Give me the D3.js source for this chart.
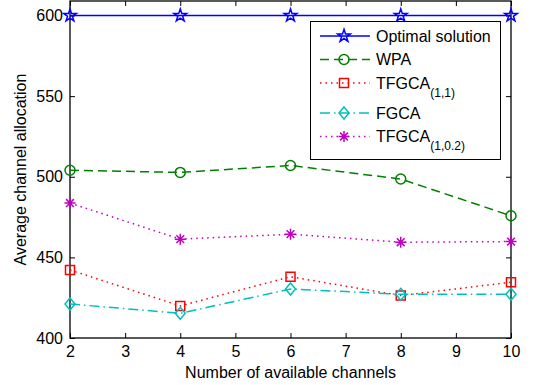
<!DOCTYPE html>
<html>
<head>
<meta charset="utf-8">
<script src="https://cdn.jsdelivr.net/npm/d3@7"></script>
<style>
  body { margin: 0; background: #fff; }
  svg { display: block; font-family: 'Liberation Sans', Arial, Helvetica, sans-serif; }
</style>
</head>
<body>
<div id="chart"></div>
<script>
// data
const channels = [2, 4, 6, 8, 10]
const optimal = [600, 600, 600, 600, 600]
const wpa = [504, 502.7, 507, 498.6, 475.8]
const tfgca11 = [442.2, 419.9, 438, 426.3, 434.6]
const fgca = [421.1, 415.3, 430.4, 427.1, 427.1]
const tfgca102 = [483.7, 461.3, 464.4, 459.4, 459.8]

const xTicks = [2, 3, 4, 5, 6, 7, 8, 9, 10]
const yTicks = [400, 450, 500, 550, 600]

const seriesNames = ['Optimal solution', 'WPA', 'TFGCA', 'FGCA', 'TFGCA']
const seriesSubs = ['', '', '(1,1)', '', '(1,0.2)']

const WIDTH = 535
const HEIGHT = 385
const LEFT = 70, RIGHT = 511, TOP = 1, BOTTOM = 338

// matlab-ish asterisk and diamond
const asterisk = {
  draw(ctx, size) {
    const r = Math.sqrt(size) / 2
    const d = r * Math.SQRT1_2
    ctx.moveTo(-r, 0); ctx.lineTo(r, 0)
    ctx.moveTo(0, -r); ctx.lineTo(0, r)
    ctx.moveTo(-d, -d); ctx.lineTo(d, d)
    ctx.moveTo(-d, d); ctx.lineTo(d, -d)
  }
}
const diamond = {
  draw(ctx, size) {
    const w = Math.sqrt(size) / 2
    const h = w * 1.2
    ctx.moveTo(0, -h); ctx.lineTo(w, 0); ctx.lineTo(0, h); ctx.lineTo(-w, 0); ctx.closePath()
  }
}

const styles = [
  {values: optimal, color: '#0000ff', dash: null, symbol: d3.symbolStar, size: 50},
  {values: wpa, color: '#008000', dash: '9,5', symbol: d3.symbolCircle, size: 78},
  {values: tfgca11, color: '#ff0000', dash: '1.5,4', symbol: d3.symbolSquare, size: 81},
  {values: fgca, color: '#00bfbf', dash: '10,4,1.5,4', symbol: diamond, size: 100},
  {values: tfgca102, color: '#bf00bf', dash: '1.5,4', symbol: asterisk, size: 121},
]

const svg = d3.select('#chart').append('svg')
  .attr('width', WIDTH)
  .attr('height', HEIGHT)

const x = d3.scaleLinear().domain([2, 10]).range([LEFT, RIGHT])
const y = d3.scaleLinear().domain([400, 609]).range([BOTTOM, TOP])

// axes, ticks pointing in
const bottomAxis = svg.append('g')
  .attr('transform', `translate(0,${BOTTOM})`)
  .call(d3.axisBottom(x).tickValues(xTicks).tickSizeInner(-5).tickSizeOuter(0).tickPadding(8).tickFormat(d3.format('d')))
const topAxis = svg.append('g')
  .attr('transform', `translate(0,${TOP})`)
  .call(d3.axisTop(x).tickValues(xTicks).tickSizeInner(-5).tickSizeOuter(0).tickFormat(''))
const leftAxis = svg.append('g')
  .attr('transform', `translate(${LEFT},0)`)
  .call(d3.axisLeft(y).tickValues(yTicks).tickSizeInner(-5).tickSizeOuter(0).tickPadding(7).tickFormat(d3.format('d')))
const rightAxis = svg.append('g')
  .attr('transform', `translate(${RIGHT},0)`)
  .call(d3.axisRight(y).tickValues(yTicks).tickSizeInner(-5).tickSizeOuter(0).tickFormat(''))

for (const g of [bottomAxis, topAxis, leftAxis, rightAxis]) {
  g.select('.domain').remove()
  g.selectAll('.tick line').attr('stroke', '#000').attr('stroke-width', 1)
  g.selectAll('.tick text')
    .attr('fill', '#000')
    .attr('font-size', '16px')
    .attr('font-family', "'Liberation Sans', Arial, sans-serif")
}

// frame
svg.append('rect')
  .attr('x', LEFT).attr('y', TOP)
  .attr('width', RIGHT - LEFT).attr('height', BOTTOM - TOP)
  .attr('fill', 'none').attr('stroke', '#000').attr('stroke-width', 1.3)

// series
const line = d3.line().x((d, i) => x(channels[i])).y(d => y(d))
styles.forEach(s => {
  svg.append('path')
    .datum(s.values)
    .attr('fill', 'none')
    .attr('stroke', s.color)
    .attr('stroke-width', 1.5)
    .attr('stroke-dasharray', s.dash)
    .attr('d', line)
  svg.selectAll(null)
    .data(s.values)
    .enter()
    .append('path')
    .attr('transform', (d, i) => `translate(${x(channels[i])},${y(d)})`)
    .attr('d', d3.symbol().type(s.symbol).size(s.size))
    .attr('fill', 'none')
    .attr('stroke', s.color)
    .attr('stroke-width', 1.5)
})

// legend
const legend = svg.append('g')
legend.append('rect')
  .attr('x', 310.5).attr('y', 21.5)
  .attr('width', 190).attr('height', 138)
  .attr('fill', '#fff').attr('stroke', '#000').attr('stroke-width', 1)

let ly = 36
styles.forEach((s, i) => {
  if (i > 0) ly += 23.5 + (seriesSubs[i - 1] ? 6.5 : 0)
  legend.append('line')
    .attr('x1', 320).attr('x2', 370).attr('y1', ly).attr('y2', ly)
    .attr('stroke', s.color).attr('stroke-width', 1.5)
    .attr('stroke-dasharray', s.dash)
  legend.append('path')
    .attr('transform', `translate(344,${ly})`)
    .attr('d', d3.symbol().type(s.symbol).size(s.size))
    .attr('fill', 'none').attr('stroke', s.color).attr('stroke-width', 1.5)
  const t = legend.append('text')
    .attr('x', 376).attr('y', ly + 5.5)
    .attr('font-size', '16px')
    .attr('fill', '#000')
    .text(seriesNames[i])
  if (seriesSubs[i]) {
    t.append('tspan')
      .attr('font-size', '12px')
      .attr('dy', 8)
      .text(seriesSubs[i])
  }
})

// axis titles
svg.append('text')
  .attr('x', (LEFT + RIGHT) / 2)
  .attr('y', 378)
  .attr('text-anchor', 'middle')
  .attr('font-size', '16px')
  .text('Number of available channels')

svg.append('text')
  .attr('transform', `translate(26,${(TOP + BOTTOM) / 2}) rotate(-90)`)
  .attr('text-anchor', 'middle')
  .attr('font-size', '16px')
  .text('Average channel allocation')
</script>
</body>
</html>
